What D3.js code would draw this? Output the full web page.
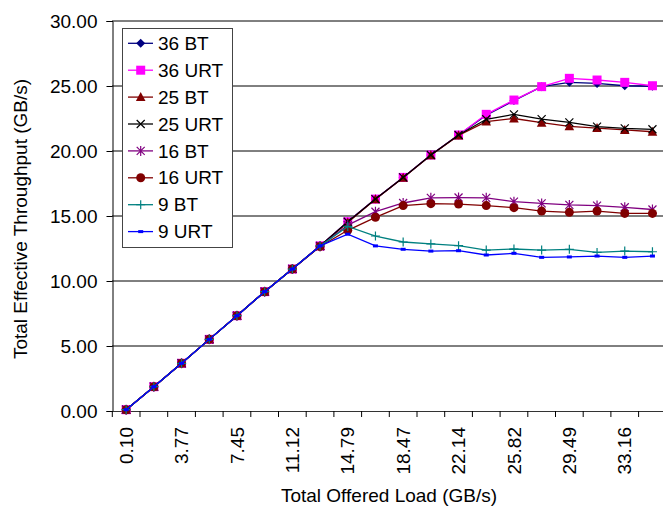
<!DOCTYPE html>
<html>
<head>
<meta charset="utf-8">
<script src="https://cdn.jsdelivr.net/npm/d3@7"></script>
<style>
  body { margin: 0; background: #fff; }
  svg { display: block; font-family: Arial, "Liberation Sans", sans-serif; }
</style>
</head>
<body>
<div id="chart"></div>
<script>
// offered load categories (x axis)
var categories = ["0.10", "1.94", "3.77", "5.61", "7.45", "9.28", "11.12", "12.96", "14.79", "16.63",
                  "18.47", "20.30", "22.14", "23.98", "25.82", "27.65", "29.49", "31.33", "33.16", "35.00"];

var bt36  = [0.10, 1.87, 3.67, 5.51, 7.33, 9.18, 10.92, 12.70, 14.56, 16.30, 17.97, 19.69, 21.23, 22.75, 23.88, 24.95, 25.28, 25.20, 25.02, 24.98];
var urt36 = [0.10, 1.87, 3.67, 5.51, 7.33, 9.18, 10.92, 12.70, 14.56, 16.30, 17.97, 19.69, 21.23, 22.82, 23.92, 24.95, 25.59, 25.46, 25.28, 25.02];
var bt25  = [0.10, 1.87, 3.67, 5.51, 7.33, 9.18, 10.92, 12.70, 14.50, 16.28, 17.95, 19.67, 21.20, 22.26, 22.50, 22.18, 21.90, 21.76, 21.62, 21.48];
var urt25 = [0.10, 1.87, 3.67, 5.51, 7.33, 9.18, 10.92, 12.70, 14.56, 16.30, 17.97, 19.69, 21.23, 22.44, 22.82, 22.45, 22.20, 21.87, 21.74, 21.67];
var bt16  = [0.10, 1.87, 3.67, 5.51, 7.33, 9.18, 10.92, 12.65, 14.30, 15.33, 16.00, 16.40, 16.42, 16.40, 16.10, 15.97, 15.85, 15.80, 15.67, 15.50];
var urt16 = [0.10, 1.87, 3.67, 5.51, 7.33, 9.18, 10.92, 12.65, 13.90, 14.90, 15.80, 15.95, 15.92, 15.80, 15.64, 15.38, 15.28, 15.38, 15.20, 15.20];
var bt9   = [0.10, 1.87, 3.67, 5.51, 7.33, 9.18, 10.92, 12.70, 14.20, 13.46, 13.00, 12.85, 12.72, 12.38, 12.46, 12.38, 12.44, 12.20, 12.30, 12.25];
var urt9  = [0.10, 1.87, 3.67, 5.51, 7.33, 9.18, 10.92, 12.70, 13.60, 12.70, 12.44, 12.30, 12.33, 12.00, 12.13, 11.82, 11.85, 11.92, 11.82, 11.92];

var seriesNames = ["36 BT", "36 URT", "25 BT", "25 URT", "16 BT", "16 URT", "9 BT", "9 URT"];
var yTicks = [0, 5, 10, 15, 20, 25, 30];

var seriesList = [
  {name: seriesNames[0], values: bt36,  color: "#000080", marker: "diamond"},
  {name: seriesNames[1], values: urt36, color: "#ff00ff", marker: "square"},
  {name: seriesNames[2], values: bt25,  color: "#800000", marker: "triangle"},
  {name: seriesNames[3], values: urt25, color: "#000000", marker: "x"},
  {name: seriesNames[4], values: bt16,  color: "#800080", marker: "star"},
  {name: seriesNames[5], values: urt16, color: "#800000", marker: "circle"},
  {name: seriesNames[6], values: bt9,   color: "#008080", marker: "plus"},
  {name: seriesNames[7], values: urt9,  color: "#0000ff", marker: "dash"}
];

var width = 663, height = 506;
var fontSize = "19px";

var svg = d3.select("#chart").append("svg")
  .attr("width", width)
  .attr("height", height);

var x = d3.scaleBand().domain(categories).range([112.3, 666.3]).padding(0);
var y = d3.scaleLinear().domain([0, 30]).range([411, 21]);

// gridlines
svg.append("g").selectAll("line")
  .data(yTicks.filter(function(d) { return d > 0; }))
  .enter().append("line")
    .attr("x1", 112).attr("x2", width)
    .attr("y1", function(d) { return y(d); })
    .attr("y2", function(d) { return y(d); })
    .style("stroke", "#000")
    .style("stroke-width", 1);

// y axis
var yAxis = svg.append("g")
  .attr("transform", "translate(112.5,0)")
  .call(d3.axisLeft(y).tickValues(yTicks).tickFormat(d3.format(".2f")).tickSize(6).tickPadding(9));
yAxis.select(".domain").style("stroke", "#000");
yAxis.selectAll("text").style("font-size", fontSize).style("fill", "#000");

// x axis
var xAxis = svg.append("g")
  .attr("transform", "translate(0,411)")
  .call(d3.axisBottom(x).tickSize(0).tickFormat(function(d, i) { return i % 2 === 0 ? d : ""; }));
xAxis.select(".domain").style("stroke", "#333");
xAxis.selectAll("text")
  .style("font-size", fontSize)
  .style("fill", "#000")
  .attr("text-anchor", "end")
  .attr("transform", "rotate(-90)")
  .attr("x", -16)
  .attr("y", 0)
  .attr("dy", "0.35em");

// category tick marks between bands
svg.append("g").selectAll("line")
  .data(categories)
  .enter().append("line")
    .attr("x1", function(d) { return x(d); })
    .attr("x2", function(d) { return x(d); })
    .attr("y1", 411).attr("y2", 417)
    .style("stroke", "#000")
    .style("stroke-width", 1);

// axis titles
svg.append("text")
  .attr("x", 389).attr("y", 502)
  .attr("text-anchor", "middle")
  .style("font-size", fontSize)
  .text("Total Offered Load (GB/s)");

svg.append("text")
  .attr("transform", "translate(27,219) rotate(-90)")
  .attr("text-anchor", "middle")
  .style("font-size", fontSize)
  .text("Total Effective Throughput (GB/s)");

function drawMarker(g, type, color) {
  if (type === "diamond") {
    g.append("path").attr("d", "M0,-4.5L4.5,0L0,4.5L-4.5,0Z").style("fill", color);
  } else if (type === "square") {
    g.append("rect").attr("x", -4.5).attr("y", -4.5).attr("width", 9).attr("height", 9).style("fill", color);
  } else if (type === "triangle") {
    g.append("path").attr("d", "M0,-5L4.8,4L-4.8,4Z").style("fill", color);
  } else if (type === "x") {
    g.append("path").attr("d", "M-4,-4L4,4M-4,4L4,-4").style("stroke", color).style("stroke-width", 1.2);
  } else if (type === "star") {
    g.append("path").attr("d", "M-4,-4L4,4M-4,4L4,-4M0,-5L0,5").style("stroke", color).style("stroke-width", 1.2);
  } else if (type === "circle") {
    g.append("circle").attr("r", 4.5).style("fill", color);
  } else if (type === "plus") {
    g.append("path").attr("d", "M-4.5,0L4.5,0M0,-4.5L0,4.5").style("stroke", color).style("stroke-width", 1.2);
  } else if (type === "dash") {
    g.append("rect").attr("x", -2.5).attr("y", -1.5).attr("width", 5).attr("height", 3).style("fill", color);
  }
}

var line = d3.line()
  .x(function(d, i) { return x(categories[i]) + x.bandwidth() / 2; })
  .y(function(d) { return y(d); });

seriesList.forEach(function(s) {
  var g = svg.append("g").attr("class", "series");
  g.append("path")
    .datum(s.values)
    .attr("d", line)
    .style("fill", "none")
    .style("stroke", s.color)
    .style("stroke-width", 1.3);
  s.values.forEach(function(v, i) {
    var m = g.append("g")
      .attr("transform", "translate(" + (x(categories[i]) + x.bandwidth() / 2) + "," + y(v) + ")");
    drawMarker(m, s.marker, s.color);
  });
});

// legend
var legend = svg.append("g");
legend.append("rect")
  .attr("x", 122.5).attr("y", 28.5)
  .attr("width", 110).attr("height", 219)
  .style("fill", "#fff")
  .style("stroke", "#444")
  .style("stroke-width", 1);

seriesList.forEach(function(s, k) {
  var ly = 43.3 + k * 26.9;
  var row = legend.append("g").attr("transform", "translate(0," + ly + ")");
  row.append("line")
    .attr("x1", 128).attr("x2", 153)
    .style("stroke", s.color)
    .style("stroke-width", 1.3);
  var m = row.append("g").attr("transform", "translate(140.7,0)");
  drawMarker(m, s.marker, s.color);
  row.append("text")
    .attr("x", 158).attr("dy", "0.35em")
    .style("font-size", fontSize)
    .text(s.name);
});
</script>
</body>
</html>
